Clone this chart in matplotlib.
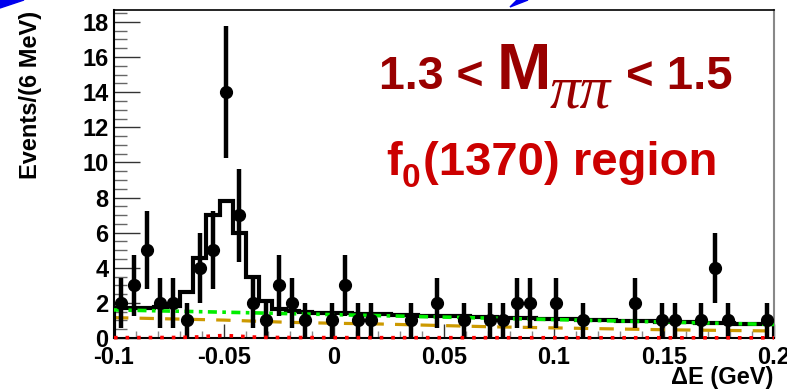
import numpy as np
import matplotlib
matplotlib.use("Agg")
import matplotlib.pyplot as plt
from matplotlib.patches import Polygon

plt.rcParams["font.family"] = ["Liberation Sans", "DejaVu Sans"]
plt.rcParams["axes.unicode_minus"] = False

# data points (bin centres in GeV, events per 6 MeV bin)
dE_points = [-0.097, -0.091, -0.085, -0.079, -0.073, -0.067, -0.061, -0.055, -0.049,
             -0.043, -0.037, -0.031, -0.025, -0.019, -0.013, -0.001, 0.005, 0.011,
             0.017, 0.035, 0.047, 0.059, 0.071, 0.077, 0.083, 0.089, 0.101, 0.113,
             0.137, 0.149, 0.155, 0.167, 0.173, 0.179, 0.197]
counts = [2, 3, 5, 2, 2, 1, 4, 5, 14, 7, 2, 1, 3, 2, 1, 1, 3, 1, 1, 1, 2, 1, 1, 1,
          2, 2, 2, 1, 2, 1, 1, 1, 4, 1, 1]

# total fit, drawn as a histogram with the same 6 MeV bins
bin_edges = np.linspace(-0.1, 0.2, 51)
total_fit = [1.70, 1.70, 1.71, 1.78, 1.80, 2.60, 4.55, 7.00, 7.78, 6.00,
             3.45, 2.10, 1.63, 1.52, 1.47, 1.44, 1.42, 1.40, 1.38, 1.36,
             1.34, 1.32, 1.30, 1.28, 1.26, 1.245, 1.225, 1.205, 1.185, 1.165,
             1.145, 1.125, 1.105, 1.085, 1.065, 1.05, 1.03, 1.01, 0.99, 0.97,
             0.95, 0.93, 0.91, 0.89, 0.87, 0.855, 0.835, 0.815, 0.80, 0.78]

# background components
green_x = [-0.1, -0.05, 0.0, 0.05, 0.1, 0.15, 0.2]
green_y = [1.60, 1.47, 1.33, 1.19, 1.05, 0.91, 0.77]
orange_x = [-0.1, -0.05, -0.02, 0.0, 0.02, 0.071, 0.112, 0.15, 0.2]
orange_y = [1.16, 1.02, 0.89, 0.84, 0.80, 0.64, 0.55, 0.47, 0.40]
red_x = [-0.1, -0.07, -0.062, -0.056, -0.05, -0.044, -0.038, -0.03, 0.0, 0.2]
red_y = [0.02, 0.03, 0.06, 0.11, 0.14, 0.11, 0.06, 0.03, 0.02, 0.01]

xticks = [-0.1, -0.05, 0.0, 0.05, 0.1, 0.15, 0.2]
xtick_labels = ["-0.1", "-0.05", "0", "0.05", "0.1", "0.15", "0.2"]
yticks = [0, 2, 4, 6, 8, 10, 12, 14, 16, 18]

fig = plt.figure(figsize=(7.87, 3.91), dpi=100)
ax = fig.add_axes([114 / 787, 1 - 338 / 391, 660 / 787, 328 / 391])

ax.stairs(total_fit, bin_edges, color="black", linewidth=3.0, zorder=3)
ax.plot(green_x, green_y, color="#00ee00", linewidth=2.6,
        dashes=(2.5, 1.5, 1, 1.5), zorder=4)
ax.plot(orange_x, orange_y, color="#cc9900", linewidth=2.3,
        dashes=(4.5, 3.5), zorder=2)
ax.plot(red_x, red_y, color="#ff0000", linewidth=2.6,
        dashes=(1, 2.2), zorder=6, clip_on=False)

err = np.sqrt(counts)
ax.errorbar(dE_points, counts, yerr=err, fmt="o", color="black", ms=8.5,
            elinewidth=3.2, capsize=0, zorder=5)

ax.set_xlim(-0.1, 0.2)
ax.set_ylim(0, 18.68)
ax.set_xticks(xticks)
ax.set_xticklabels(xtick_labels)
ax.set_yticks(yticks)
ax.set_xticks(np.arange(-0.1, 0.2001, 0.01), minor=True)
ax.set_yticks(np.arange(0, 18.6, 0.5), minor=True)

ax.tick_params(axis="both", which="both", direction="in", width=1,
               color="#333333")
ax.tick_params(axis="x", which="major", length=10, pad=6, labelsize=17)
ax.tick_params(axis="x", which="minor", length=5, color="#888888")
ax.tick_params(axis="y", which="major", length=19, pad=4, labelsize=17)
ax.tick_params(axis="y", which="minor", length=9, color="#666666")
for lab in ax.get_xticklabels() + ax.get_yticklabels():
    lab.set_fontweight("bold")

for side in ["left", "bottom"]:
    ax.spines[side].set_linewidth(1.5)
ax.spines["top"].set_linewidth(1.2)
ax.spines["right"].set_color("#888888")
ax.spines["right"].set_linewidth(1.5)

fig.text(31 / 787, 1 - 95 / 391, "Events/(6 MeV)", rotation=90, ha="center",
         va="center", fontsize=17, fontweight="bold")
fig.text(773 / 787, 1 - 384 / 391, "\u0394E (GeV)", ha="right", va="baseline",
         fontsize=17, fontweight="bold")

# annotation
dark_red = "#990000"
red = "#cc0000"
fig.text(379 / 787, 1 - 89 / 391, "1.3 <", fontsize=33.5, fontweight="bold",
         color=dark_red, va="baseline", ha="left")
fig.text(497 / 787, 1 - 89 / 391, "M", fontsize=47, fontweight="bold",
         color=dark_red, va="baseline", ha="left")
fig.text(550 / 787, 1 - 108 / 391, "\u03c0\u03c0", fontsize=44,
         family="Liberation Serif", style="italic",
         color=dark_red, va="baseline", ha="left")
fig.text(626 / 787, 1 - 89 / 391, "< 1.5", fontsize=34, fontweight="bold",
         color=dark_red, va="baseline", ha="left")

fig.text(386 / 787, 1 - 175 / 391, "f", fontsize=34, fontweight="bold",
         color=red, va="baseline", ha="left")
fig.text(402 / 787, 1 - 187 / 391, "0", fontsize=24, fontweight="bold",
         color=red, va="baseline", ha="left")
fig.text(423 / 787, 1 - 175 / 391, "(1370) region", fontsize=34,
         fontweight="bold", color=red, va="baseline", ha="left")

# bits of the slide's blue arrows poking into the picture
fig.patches.append(Polygon([(0, 1), (24 / 787, 1), (0, 1 - 8 / 391)],
                           closed=True, transform=fig.transFigure,
                           color="#0000ee"))
fig.patches.append(Polygon([(510 / 787, 1 - 7 / 391), (517 / 787, 1),
                            (528 / 787, 1)], closed=True,
                           transform=fig.transFigure, color="#0000ee"))

fig.savefig("out.png", dpi=100)
